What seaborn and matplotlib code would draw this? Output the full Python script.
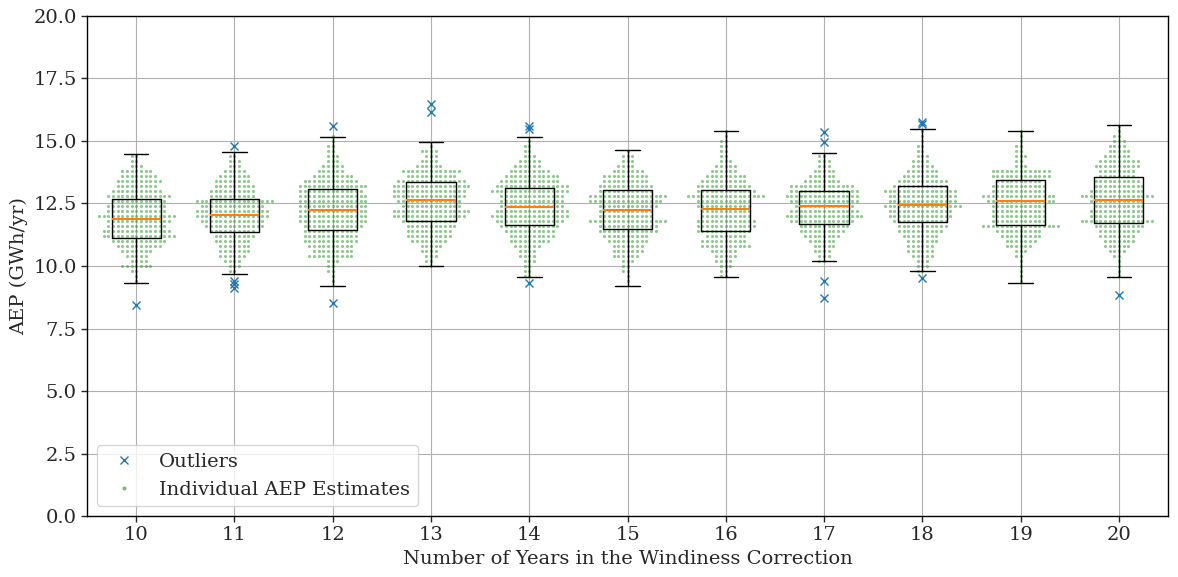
import matplotlib
matplotlib.use('Agg')
import numpy as np
import pandas as pd
import seaborn as sns
import matplotlib.pyplot as plt
from matplotlib.lines import Line2D

years = [10, 11, 12, 13, 14, 15, 16, 17, 18, 19, 20]

# AEP levels (GWh/yr) and how many estimates sit at each level, per year count
levels = [15.6, 15.4, 15.2, 15.0, 14.8, 14.6, 14.4, 14.2, 14.0, 13.8, 13.6,
          13.4, 13.2, 13.0, 12.8, 12.6, 12.4, 12.2, 12.0, 11.8, 11.6, 11.4,
          11.2, 11.0, 10.8, 10.6, 10.4, 10.2, 10.0, 9.8, 9.6, 9.4]

counts_10 = [0, 0, 0, 0, 0, 0, 2, 2, 3, 7, 8, 10, 9, 11, 14, 12, 13, 13, 17, 14, 13, 15, 16, 12, 10, 7, 5, 4, 7, 2, 1, 1]
counts_11 = [0, 0, 0, 0, 0, 0, 2, 3, 3, 5, 7, 8, 9, 10, 10, 17, 14, 16, 16, 14, 13, 10, 9, 8, 7, 7, 6, 4, 3, 2, 0, 0]
counts_12 = [0, 0, 1, 1, 2, 2, 3, 3, 5, 6, 9, 12, 15, 14, 15, 15, 15, 15, 15, 15, 13, 12, 12, 12, 10, 9, 10, 3, 2, 2, 1, 1]
counts_13 = [0, 0, 0, 0, 1, 4, 3, 4, 6, 13, 11, 15, 17, 16, 16, 14, 13, 17, 16, 12, 11, 10, 10, 8, 5, 4, 3, 2, 1, 0, 0, 0]
counts_14 = [0, 0, 0, 1, 2, 2, 3, 5, 6, 9, 12, 13, 16, 17, 14, 14, 14, 16, 17, 15, 13, 11, 10, 9, 6, 4, 4, 3, 2, 2, 2, 0]
counts_15 = [0, 0, 0, 0, 0, 1, 3, 3, 4, 7, 10, 10, 12, 12, 17, 16, 13, 12, 12, 17, 13, 13, 10, 9, 7, 7, 6, 3, 2, 2, 1, 1]
counts_16 = [0, 1, 1, 2, 2, 2, 2, 3, 5, 6, 9, 10, 12, 13, 17, 12, 12, 11, 11, 13, 13, 12, 9, 10, 11, 6, 5, 4, 3, 2, 2, 0]
counts_17 = [0, 0, 0, 0, 0, 0, 2, 3, 3, 5, 6, 8, 14, 15, 16, 15, 13, 15, 17, 14, 11, 10, 8, 6, 5, 4, 3, 2, 0, 0, 0, 0]
counts_18 = [0, 1, 1, 1, 2, 2, 3, 4, 5, 7, 8, 11, 12, 16, 15, 15, 17, 14, 14, 12, 11, 10, 8, 7, 6, 6, 5, 3, 3, 2, 0, 0]
counts_19 = [0, 1, 1, 1, 2, 2, 3, 2, 3, 13, 13, 10, 12, 12, 16, 15, 12, 12, 12, 12, 17, 10, 9, 7, 6, 3, 2, 1, 1, 1, 1, 1]
counts_20 = [1, 1, 2, 3, 4, 5, 6, 9, 10, 8, 8, 10, 11, 12, 16, 12, 11, 12, 12, 16, 11, 9, 8, 7, 6, 4, 2, 1, 1, 1, 1, 0]

# box statistics
q1 = [11.11, 11.37, 11.42, 11.78, 11.62, 11.46, 11.39, 11.69, 11.74, 11.62, 11.73]
medians = [11.89, 12.05, 12.25, 12.62, 12.37, 12.25, 12.29, 12.41, 12.45, 12.61, 12.65]
q3 = [12.66, 12.69, 13.06, 13.34, 13.10, 13.02, 13.02, 12.98, 13.21, 13.42, 13.54]
whisker_lo = [9.31, 9.67, 9.19, 9.99, 9.55, 9.19, 9.55, 10.18, 9.78, 9.31, 9.55]
whisker_hi = [14.47, 14.54, 15.14, 14.94, 15.14, 14.62, 15.38, 14.51, 15.46, 15.38, 15.63]

outlier_years = [10, 11, 11, 11, 11, 12, 12, 13, 13, 14, 14, 14, 17, 17, 17, 17, 18, 18, 18, 20]
outlier_values = [8.43, 14.79, 9.38, 9.28, 9.12, 15.59, 8.53, 16.47, 16.17, 15.59, 15.46, 9.33,
                  15.35, 14.95, 9.38, 8.70, 15.77, 15.67, 9.50, 8.82]

all_counts = [counts_10, counts_11, counts_12, counts_13, counts_14, counts_15,
              counts_16, counts_17, counts_18, counts_19, counts_20]

rows = []
for yr, cnt in zip(years, all_counts):
    for v in np.repeat(levels, cnt):
        rows.append((str(yr), v))
df = pd.DataFrame(rows, columns=['Years', 'AEP'])

sns.set_style('white')
plt.rcParams['font.family'] = 'serif'
plt.rcParams['font.serif'] = ['DejaVu Serif']
plt.rcParams['font.size'] = 14

fig = plt.figure(figsize=(11.78, 5.77), dpi=100)
ax = fig.add_axes([0.0739, 0.1057, 0.9176, 0.8666])

sns.swarmplot(data=df, x='Years', y='AEP', order=[str(y) for y in years],
              color='tab:green', size=3.2, alpha=0.55, linewidth=0,
              zorder=2, ax=ax, legend=False, warn_thresh=1)

stats = []
for a, m, b, lo, hi in zip(q1, medians, q3, whisker_lo, whisker_hi):
    stats.append(dict(q1=a, med=m, q3=b, whislo=lo, whishi=hi, fliers=[]))
ax.bxp(stats, positions=range(len(years)), widths=0.5, showfliers=False,
       boxprops=dict(color='black'), whiskerprops=dict(color='black'),
       capprops=dict(color='black'), medianprops=dict(color='C1', linewidth=1.5),
       manage_ticks=False, zorder=3)

ax.plot([years.index(y) for y in outlier_years], outlier_values, 'x',
        color='C0', markersize=6, linestyle='none', zorder=4)

ax.set_xlim(-0.5, len(years) - 0.5)
ax.set_ylim(0, 20)
ax.set_yticks(np.arange(0, 20.1, 2.5))
ax.set_yticklabels([f'{t:.1f}' for t in np.arange(0, 20.1, 2.5)])
ax.set_xticks(range(len(years)))
ax.set_xticklabels([str(y) for y in years])
ax.grid(True, color='#b0b0b0', linewidth=0.8)
ax.set_axisbelow(True)
ax.tick_params(axis='both', which='both', direction='out', length=4, width=1,
               bottom=True, left=True, labelsize=14)
for s in ax.spines.values():
    s.set_color('black')
    s.set_linewidth(1)
ax.set_xlabel('Number of Years in the Windiness Correction', fontsize=14)
ax.set_ylabel('AEP (GWh/yr)', fontsize=14)

handles = [Line2D([], [], marker='x', color='C0', linestyle='none', markersize=6, label='Outliers'),
           Line2D([], [], marker='o', color='tab:green', alpha=0.55, linestyle='none',
                  markersize=2, label='Individual AEP Estimates')]
ax.legend(handles=handles, loc='lower left', fontsize=14)

# lay out the swarm once with wider spacing, then shrink the dots
fig.canvas.draw()
for c in ax.collections:
    if 'draw' in c.__dict__:
        del c.draw
    c.set_sizes([5])

fig.savefig('out.png', dpi=100)
